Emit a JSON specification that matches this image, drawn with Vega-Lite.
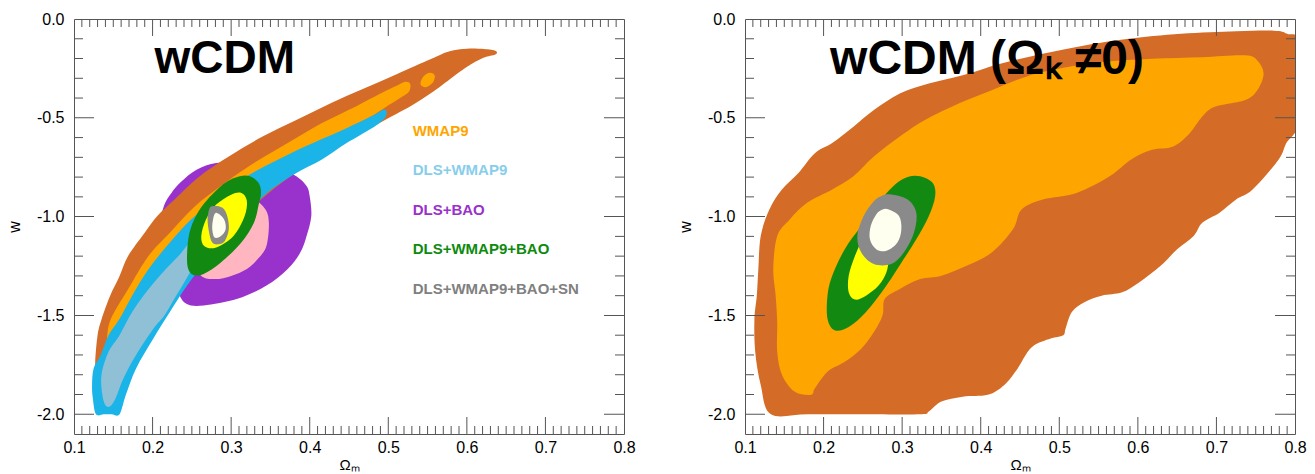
{
"$schema": "https://vega.github.io/schema/vega-lite/v6.json",
"background": "white",
"padding": {"left": 5, "top": 10, "right": 5, "bottom": 0},
"spacing": 121,
"bounds": "flush",
"config": {
  "view": {"stroke": "#555555", "strokeWidth": 1},
  "axis": {"labelFont": "Liberation Sans", "titleFont": "Liberation Sans", "labelFontSize": 16, "labelColor": "#000000", "titleColor": "#000000", "grid": false, "domain": false},
  "text": {"font": "Liberation Sans"}
},
"datasets": {
  "xt": [
    {"v":0.2,"k":"major"},{"v":0.3,"k":"major"},{"v":0.4,"k":"major"},{"v":0.5,"k":"major"},{"v":0.6,"k":"major"},{"v":0.7,"k":"major"},
    {"v":0.11,"k":"minor"},{"v":0.12,"k":"minor"},{"v":0.13,"k":"minor"},{"v":0.14,"k":"minor"},{"v":0.15,"k":"minor"},{"v":0.16,"k":"minor"},{"v":0.17,"k":"minor"},{"v":0.18,"k":"minor"},{"v":0.19,"k":"minor"},
    {"v":0.21,"k":"minor"},{"v":0.22,"k":"minor"},{"v":0.23,"k":"minor"},{"v":0.24,"k":"minor"},{"v":0.25,"k":"minor"},{"v":0.26,"k":"minor"},{"v":0.27,"k":"minor"},{"v":0.28,"k":"minor"},{"v":0.29,"k":"minor"},
    {"v":0.31,"k":"minor"},{"v":0.32,"k":"minor"},{"v":0.33,"k":"minor"},{"v":0.34,"k":"minor"},{"v":0.35,"k":"minor"},{"v":0.36,"k":"minor"},{"v":0.37,"k":"minor"},{"v":0.38,"k":"minor"},{"v":0.39,"k":"minor"},
    {"v":0.41,"k":"minor"},{"v":0.42,"k":"minor"},{"v":0.43,"k":"minor"},{"v":0.44,"k":"minor"},{"v":0.45,"k":"minor"},{"v":0.46,"k":"minor"},{"v":0.47,"k":"minor"},{"v":0.48,"k":"minor"},{"v":0.49,"k":"minor"},
    {"v":0.51,"k":"minor"},{"v":0.52,"k":"minor"},{"v":0.53,"k":"minor"},{"v":0.54,"k":"minor"},{"v":0.55,"k":"minor"},{"v":0.56,"k":"minor"},{"v":0.57,"k":"minor"},{"v":0.58,"k":"minor"},{"v":0.59,"k":"minor"},
    {"v":0.61,"k":"minor"},{"v":0.62,"k":"minor"},{"v":0.63,"k":"minor"},{"v":0.64,"k":"minor"},{"v":0.65,"k":"minor"},{"v":0.66,"k":"minor"},{"v":0.67,"k":"minor"},{"v":0.68,"k":"minor"},{"v":0.69,"k":"minor"},
    {"v":0.71,"k":"minor"},{"v":0.72,"k":"minor"},{"v":0.73,"k":"minor"},{"v":0.74,"k":"minor"},{"v":0.75,"k":"minor"},{"v":0.76,"k":"minor"},{"v":0.77,"k":"minor"},{"v":0.78,"k":"minor"},{"v":0.79,"k":"minor"}
  ],
  "yt": [
    {"v":-0.5,"k":"major"},{"v":-1.0,"k":"major"},{"v":-1.5,"k":"major"},{"v":-2.0,"k":"major"},
    {"v":-0.1,"k":"minor"},{"v":-0.2,"k":"minor"},{"v":-0.3,"k":"minor"},{"v":-0.4,"k":"minor"},{"v":-0.6,"k":"minor"},{"v":-0.7,"k":"minor"},{"v":-0.8,"k":"minor"},{"v":-0.9,"k":"minor"},
    {"v":-1.1,"k":"minor"},{"v":-1.2,"k":"minor"},{"v":-1.3,"k":"minor"},{"v":-1.4,"k":"minor"},{"v":-1.6,"k":"minor"},{"v":-1.7,"k":"minor"},{"v":-1.8,"k":"minor"},{"v":-1.9,"k":"minor"}
  ],
  "left": [
    {"p":"a","r":"DLS+BAO 2σ","x":0.281,"w":-0.729},{"p":"a","r":"DLS+BAO 2σ","x":0.310,"w":-0.735},{"p":"a","r":"DLS+BAO 2σ","x":0.340,"w":-0.746},{"p":"a","r":"DLS+BAO 2σ","x":0.365,"w":-0.765},{"p":"a","r":"DLS+BAO 2σ","x":0.383,"w":-0.796},{"p":"a","r":"DLS+BAO 2σ","x":0.396,"w":-0.845},{"p":"a","r":"DLS+BAO 2σ","x":0.400,"w":-0.897},{"p":"a","r":"DLS+BAO 2σ","x":0.402,"w":-0.997},{"p":"a","r":"DLS+BAO 2σ","x":0.396,"w":-1.098},{"p":"a","r":"DLS+BAO 2σ","x":0.388,"w":-1.182},{"p":"a","r":"DLS+BAO 2σ","x":0.372,"w":-1.265},{"p":"a","r":"DLS+BAO 2σ","x":0.345,"w":-1.349},{"p":"a","r":"DLS+BAO 2σ","x":0.308,"w":-1.416},{"p":"a","r":"DLS+BAO 2σ","x":0.265,"w":-1.450},{"p":"a","r":"DLS+BAO 2σ","x":0.243,"w":-1.441},{"p":"a","r":"DLS+BAO 2σ","x":0.232,"w":-1.380},{"p":"a","r":"DLS+BAO 2σ","x":0.220,"w":-1.270},{"p":"a","r":"DLS+BAO 2σ","x":0.212,"w":-1.150},{"p":"a","r":"DLS+BAO 2σ","x":0.210,"w":-1.030},{"p":"a","r":"DLS+BAO 2σ","x":0.215,"w":-0.940},{"p":"a","r":"DLS+BAO 2σ","x":0.224,"w":-0.880},{"p":"a","r":"DLS+BAO 2σ","x":0.236,"w":-0.825},{"p":"a","r":"DLS+BAO 2σ","x":0.256,"w":-0.763},
    {"p":"b","r":"DLS+BAO 1σ","x":0.297,"w":-0.863},{"p":"b","r":"DLS+BAO 1σ","x":0.325,"w":-0.900},{"p":"b","r":"DLS+BAO 1σ","x":0.343,"w":-0.960},{"p":"b","r":"DLS+BAO 1σ","x":0.348,"w":-1.030},{"p":"b","r":"DLS+BAO 1σ","x":0.345,"w":-1.148},{"p":"b","r":"DLS+BAO 1σ","x":0.335,"w":-1.210},{"p":"b","r":"DLS+BAO 1σ","x":0.320,"w":-1.265},{"p":"b","r":"DLS+BAO 1σ","x":0.300,"w":-1.300},{"p":"b","r":"DLS+BAO 1σ","x":0.280,"w":-1.316},{"p":"b","r":"DLS+BAO 1σ","x":0.262,"w":-1.300},{"p":"b","r":"DLS+BAO 1σ","x":0.252,"w":-1.220},{"p":"b","r":"DLS+BAO 1σ","x":0.249,"w":-1.131},{"p":"b","r":"DLS+BAO 1σ","x":0.254,"w":-1.030},{"p":"b","r":"DLS+BAO 1σ","x":0.263,"w":-0.950},{"p":"b","r":"DLS+BAO 1σ","x":0.278,"w":-0.890},
    {"p":"c","r":"WMAP9 2σ","x":0.132,"w":-1.900},{"p":"c","r":"WMAP9 2σ","x":0.128,"w":-1.800},{"p":"c","r":"WMAP9 2σ","x":0.127,"w":-1.735},{"p":"c","r":"WMAP9 2σ","x":0.130,"w":-1.600},{"p":"c","r":"WMAP9 2σ","x":0.135,"w":-1.520},{"p":"c","r":"WMAP9 2σ","x":0.146,"w":-1.400},{"p":"c","r":"WMAP9 2σ","x":0.158,"w":-1.300},{"p":"c","r":"WMAP9 2σ","x":0.169,"w":-1.198},{"p":"c","r":"WMAP9 2σ","x":0.190,"w":-1.081},{"p":"c","r":"WMAP9 2σ","x":0.206,"w":-0.997},{"p":"c","r":"WMAP9 2σ","x":0.228,"w":-0.913},{"p":"c","r":"WMAP9 2σ","x":0.260,"w":-0.796},{"p":"c","r":"WMAP9 2σ","x":0.297,"w":-0.696},{"p":"c","r":"WMAP9 2σ","x":0.340,"w":-0.595},{"p":"c","r":"WMAP9 2σ","x":0.383,"w":-0.511},{"p":"c","r":"WMAP9 2σ","x":0.426,"w":-0.427},{"p":"c","r":"WMAP9 2σ","x":0.469,"w":-0.352},{"p":"c","r":"WMAP9 2σ","x":0.512,"w":-0.277},{"p":"c","r":"WMAP9 2σ","x":0.555,"w":-0.201},{"p":"c","r":"WMAP9 2σ","x":0.578,"w":-0.163},{"p":"c","r":"WMAP9 2σ","x":0.600,"w":-0.150},{"p":"c","r":"WMAP9 2σ","x":0.622,"w":-0.152},{"p":"c","r":"WMAP9 2σ","x":0.637,"w":-0.162},{"p":"c","r":"WMAP9 2σ","x":0.636,"w":-0.180},{"p":"c","r":"WMAP9 2σ","x":0.622,"w":-0.195},{"p":"c","r":"WMAP9 2σ","x":0.607,"w":-0.225},{"p":"c","r":"WMAP9 2σ","x":0.592,"w":-0.265},{"p":"c","r":"WMAP9 2σ","x":0.565,"w":-0.345},{"p":"c","r":"WMAP9 2σ","x":0.533,"w":-0.430},{"p":"c","r":"WMAP9 2σ","x":0.501,"w":-0.500},{"p":"c","r":"WMAP9 2σ","x":0.469,"w":-0.570},{"p":"c","r":"WMAP9 2σ","x":0.437,"w":-0.638},{"p":"c","r":"WMAP9 2σ","x":0.404,"w":-0.722},{"p":"c","r":"WMAP9 2σ","x":0.372,"w":-0.806},{"p":"c","r":"WMAP9 2σ","x":0.340,"w":-0.907},{"p":"c","r":"WMAP9 2σ","x":0.308,"w":-1.024},{"p":"c","r":"WMAP9 2σ","x":0.276,"w":-1.158},{"p":"c","r":"WMAP9 2σ","x":0.249,"w":-1.292},{"p":"c","r":"WMAP9 2σ","x":0.222,"w":-1.443},{"p":"c","r":"WMAP9 2σ","x":0.195,"w":-1.610},{"p":"c","r":"WMAP9 2σ","x":0.174,"w":-1.761},{"p":"c","r":"WMAP9 2σ","x":0.160,"w":-1.880},{"p":"c","r":"WMAP9 2σ","x":0.150,"w":-1.960},{"p":"c","r":"WMAP9 2σ","x":0.140,"w":-1.960},
    {"p":"d","r":"WMAP9 1σ","x":0.145,"w":-1.830},{"p":"d","r":"WMAP9 1σ","x":0.140,"w":-1.750},{"p":"d","r":"WMAP9 1σ","x":0.142,"w":-1.620},{"p":"d","r":"WMAP9 1σ","x":0.147,"w":-1.517},{"p":"d","r":"WMAP9 1σ","x":0.169,"w":-1.366},{"p":"d","r":"WMAP9 1σ","x":0.195,"w":-1.198},{"p":"d","r":"WMAP9 1σ","x":0.222,"w":-1.081},{"p":"d","r":"WMAP9 1σ","x":0.254,"w":-0.947},{"p":"d","r":"WMAP9 1σ","x":0.292,"w":-0.830},{"p":"d","r":"WMAP9 1σ","x":0.329,"w":-0.729},{"p":"d","r":"WMAP9 1σ","x":0.372,"w":-0.628},{"p":"d","r":"WMAP9 1σ","x":0.415,"w":-0.528},{"p":"d","r":"WMAP9 1σ","x":0.458,"w":-0.444},{"p":"d","r":"WMAP9 1σ","x":0.490,"w":-0.377},{"p":"d","r":"WMAP9 1σ","x":0.512,"w":-0.335},{"p":"d","r":"WMAP9 1σ","x":0.522,"w":-0.318},{"p":"d","r":"WMAP9 1σ","x":0.528,"w":-0.330},{"p":"d","r":"WMAP9 1σ","x":0.526,"w":-0.370},{"p":"d","r":"WMAP9 1σ","x":0.515,"w":-0.400},{"p":"d","r":"WMAP9 1σ","x":0.495,"w":-0.450},{"p":"d","r":"WMAP9 1σ","x":0.475,"w":-0.500},{"p":"d","r":"WMAP9 1σ","x":0.440,"w":-0.570},{"p":"d","r":"WMAP9 1σ","x":0.400,"w":-0.650},{"p":"d","r":"WMAP9 1σ","x":0.360,"w":-0.730},{"p":"d","r":"WMAP9 1σ","x":0.330,"w":-0.820},{"p":"d","r":"WMAP9 1σ","x":0.300,"w":-0.930},{"p":"d","r":"WMAP9 1σ","x":0.275,"w":-1.050},{"p":"d","r":"WMAP9 1σ","x":0.250,"w":-1.180},{"p":"d","r":"WMAP9 1σ","x":0.225,"w":-1.330},{"p":"d","r":"WMAP9 1σ","x":0.200,"w":-1.500},{"p":"d","r":"WMAP9 1σ","x":0.180,"w":-1.650},{"p":"d","r":"WMAP9 1σ","x":0.165,"w":-1.780},
    {"p":"e","r":"WMAP9 1σ","x":0.541,"w":-0.330},{"p":"e","r":"WMAP9 1σ","x":0.545,"w":-0.290},{"p":"e","r":"WMAP9 1σ","x":0.553,"w":-0.272},{"p":"e","r":"WMAP9 1σ","x":0.559,"w":-0.285},{"p":"e","r":"WMAP9 1σ","x":0.557,"w":-0.320},{"p":"e","r":"WMAP9 1σ","x":0.548,"w":-0.345},
    {"p":"f","r":"DLS+WMAP9 2σ","x":0.128,"w":-2.000},{"p":"f","r":"DLS+WMAP9 2σ","x":0.124,"w":-1.920},{"p":"f","r":"DLS+WMAP9 2σ","x":0.123,"w":-1.852},{"p":"f","r":"DLS+WMAP9 2σ","x":0.125,"w":-1.768},{"p":"f","r":"DLS+WMAP9 2σ","x":0.134,"w":-1.700},{"p":"f","r":"DLS+WMAP9 2σ","x":0.144,"w":-1.600},{"p":"f","r":"DLS+WMAP9 2σ","x":0.158,"w":-1.517},{"p":"f","r":"DLS+WMAP9 2σ","x":0.174,"w":-1.400},{"p":"f","r":"DLS+WMAP9 2σ","x":0.195,"w":-1.265},{"p":"f","r":"DLS+WMAP9 2σ","x":0.222,"w":-1.131},{"p":"f","r":"DLS+WMAP9 2σ","x":0.249,"w":-1.014},{"p":"f","r":"DLS+WMAP9 2σ","x":0.281,"w":-0.913},{"p":"f","r":"DLS+WMAP9 2σ","x":0.313,"w":-0.813},{"p":"f","r":"DLS+WMAP9 2σ","x":0.351,"w":-0.729},{"p":"f","r":"DLS+WMAP9 2σ","x":0.394,"w":-0.645},{"p":"f","r":"DLS+WMAP9 2σ","x":0.437,"w":-0.570},{"p":"f","r":"DLS+WMAP9 2σ","x":0.469,"w":-0.511},{"p":"f","r":"DLS+WMAP9 2σ","x":0.487,"w":-0.475},{"p":"f","r":"DLS+WMAP9 2σ","x":0.494,"w":-0.458},{"p":"f","r":"DLS+WMAP9 2σ","x":0.498,"w":-0.470},{"p":"f","r":"DLS+WMAP9 2σ","x":0.495,"w":-0.503},{"p":"f","r":"DLS+WMAP9 2σ","x":0.479,"w":-0.553},{"p":"f","r":"DLS+WMAP9 2σ","x":0.447,"w":-0.628},{"p":"f","r":"DLS+WMAP9 2σ","x":0.415,"w":-0.712},{"p":"f","r":"DLS+WMAP9 2σ","x":0.383,"w":-0.779},{"p":"f","r":"DLS+WMAP9 2σ","x":0.351,"w":-0.863},{"p":"f","r":"DLS+WMAP9 2σ","x":0.324,"w":-0.964},{"p":"f","r":"DLS+WMAP9 2σ","x":0.297,"w":-1.081},{"p":"f","r":"DLS+WMAP9 2σ","x":0.270,"w":-1.215},{"p":"f","r":"DLS+WMAP9 2σ","x":0.244,"w":-1.349},{"p":"f","r":"DLS+WMAP9 2σ","x":0.222,"w":-1.483},{"p":"f","r":"DLS+WMAP9 2σ","x":0.201,"w":-1.617},{"p":"f","r":"DLS+WMAP9 2σ","x":0.179,"w":-1.768},{"p":"f","r":"DLS+WMAP9 2σ","x":0.166,"w":-1.902},{"p":"f","r":"DLS+WMAP9 2σ","x":0.158,"w":-2.000},{"p":"f","r":"DLS+WMAP9 2σ","x":0.148,"w":-2.000},{"p":"f","r":"DLS+WMAP9 2σ","x":0.138,"w":-2.000},
    {"p":"g","r":"DLS+WMAP9 1σ","x":0.146,"w":-1.960},{"p":"g","r":"DLS+WMAP9 1σ","x":0.140,"w":-1.955},{"p":"g","r":"DLS+WMAP9 1σ","x":0.136,"w":-1.900},{"p":"g","r":"DLS+WMAP9 1σ","x":0.135,"w":-1.800},{"p":"g","r":"DLS+WMAP9 1σ","x":0.144,"w":-1.684},{"p":"g","r":"DLS+WMAP9 1σ","x":0.158,"w":-1.600},{"p":"g","r":"DLS+WMAP9 1σ","x":0.174,"w":-1.483},{"p":"g","r":"DLS+WMAP9 1σ","x":0.195,"w":-1.366},{"p":"g","r":"DLS+WMAP9 1σ","x":0.217,"w":-1.265},{"p":"g","r":"DLS+WMAP9 1σ","x":0.235,"w":-1.190},{"p":"g","r":"DLS+WMAP9 1σ","x":0.250,"w":-1.120},{"p":"g","r":"DLS+WMAP9 1σ","x":0.262,"w":-1.100},{"p":"g","r":"DLS+WMAP9 1σ","x":0.258,"w":-1.200},{"p":"g","r":"DLS+WMAP9 1σ","x":0.245,"w":-1.300},{"p":"g","r":"DLS+WMAP9 1σ","x":0.230,"w":-1.400},{"p":"g","r":"DLS+WMAP9 1σ","x":0.215,"w":-1.500},{"p":"g","r":"DLS+WMAP9 1σ","x":0.201,"w":-1.567},{"p":"g","r":"DLS+WMAP9 1σ","x":0.179,"w":-1.700},{"p":"g","r":"DLS+WMAP9 1σ","x":0.163,"w":-1.818},{"p":"g","r":"DLS+WMAP9 1σ","x":0.153,"w":-1.919},
    {"p":"h","r":"DLS+WMAP9+BAO 2σ","x":0.324,"w":-0.796},{"p":"h","r":"DLS+WMAP9+BAO 2σ","x":0.335,"w":-0.830},{"p":"h","r":"DLS+WMAP9+BAO 2σ","x":0.338,"w":-0.880},{"p":"h","r":"DLS+WMAP9+BAO 2σ","x":0.335,"w":-0.940},{"p":"h","r":"DLS+WMAP9+BAO 2σ","x":0.329,"w":-1.031},{"p":"h","r":"DLS+WMAP9+BAO 2σ","x":0.313,"w":-1.131},{"p":"h","r":"DLS+WMAP9+BAO 2σ","x":0.287,"w":-1.232},{"p":"h","r":"DLS+WMAP9+BAO 2σ","x":0.265,"w":-1.290},{"p":"h","r":"DLS+WMAP9+BAO 2σ","x":0.252,"w":-1.295},{"p":"h","r":"DLS+WMAP9+BAO 2σ","x":0.245,"w":-1.260},{"p":"h","r":"DLS+WMAP9+BAO 2σ","x":0.244,"w":-1.180},{"p":"h","r":"DLS+WMAP9+BAO 2σ","x":0.247,"w":-1.080},{"p":"h","r":"DLS+WMAP9+BAO 2σ","x":0.256,"w":-0.990},{"p":"h","r":"DLS+WMAP9+BAO 2σ","x":0.270,"w":-0.913},{"p":"h","r":"DLS+WMAP9+BAO 2σ","x":0.292,"w":-0.830},{"p":"h","r":"DLS+WMAP9+BAO 2σ","x":0.311,"w":-0.796},
    {"p":"i","r":"DLS+WMAP9+BAO 1σ","x":0.313,"w":-0.880},{"p":"i","r":"DLS+WMAP9+BAO 1σ","x":0.320,"w":-0.920},{"p":"i","r":"DLS+WMAP9+BAO 1σ","x":0.317,"w":-1.000},{"p":"i","r":"DLS+WMAP9+BAO 1σ","x":0.303,"w":-1.098},{"p":"i","r":"DLS+WMAP9+BAO 1σ","x":0.281,"w":-1.156},{"p":"i","r":"DLS+WMAP9+BAO 1σ","x":0.266,"w":-1.150},{"p":"i","r":"DLS+WMAP9+BAO 1σ","x":0.262,"w":-1.098},{"p":"i","r":"DLS+WMAP9+BAO 1σ","x":0.268,"w":-1.014},{"p":"i","r":"DLS+WMAP9+BAO 1σ","x":0.281,"w":-0.939},{"p":"i","r":"DLS+WMAP9+BAO 1σ","x":0.300,"w":-0.889},
    {"p":"j","r":"DLS+WMAP9+BAO+SN 2σ","x":0.276,"w":-0.947},{"p":"j","r":"DLS+WMAP9+BAO+SN 2σ","x":0.289,"w":-0.955},{"p":"j","r":"DLS+WMAP9+BAO+SN 2σ","x":0.295,"w":-0.997},{"p":"j","r":"DLS+WMAP9+BAO+SN 2σ","x":0.297,"w":-1.064},{"p":"j","r":"DLS+WMAP9+BAO+SN 2σ","x":0.292,"w":-1.123},{"p":"j","r":"DLS+WMAP9+BAO+SN 2σ","x":0.284,"w":-1.140},{"p":"j","r":"DLS+WMAP9+BAO+SN 2σ","x":0.276,"w":-1.131},{"p":"j","r":"DLS+WMAP9+BAO+SN 2σ","x":0.272,"w":-1.081},{"p":"j","r":"DLS+WMAP9+BAO+SN 2σ","x":0.270,"w":-1.014},{"p":"j","r":"DLS+WMAP9+BAO+SN 2σ","x":0.272,"w":-0.964},
    {"p":"k","r":"DLS+WMAP9+BAO+SN 1σ","x":0.281,"w":-0.981},{"p":"k","r":"DLS+WMAP9+BAO+SN 1σ","x":0.291,"w":-1.014},{"p":"k","r":"DLS+WMAP9+BAO+SN 1σ","x":0.293,"w":-1.064},{"p":"k","r":"DLS+WMAP9+BAO+SN 1σ","x":0.287,"w":-1.098},{"p":"k","r":"DLS+WMAP9+BAO+SN 1σ","x":0.279,"w":-1.106},{"p":"k","r":"DLS+WMAP9+BAO+SN 1σ","x":0.276,"w":-1.064},{"p":"k","r":"DLS+WMAP9+BAO+SN 1σ","x":0.277,"w":-1.014}
  ],
  "right": [
    {"p":"a","r":"WMAP9 2σ","x":0.180,"w":-2.000},{"p":"a","r":"WMAP9 2σ","x":0.133,"w":-2.000},{"p":"a","r":"WMAP9 2σ","x":0.120,"w":-1.852},{"p":"a","r":"WMAP9 2σ","x":0.113,"w":-1.684},{"p":"a","r":"WMAP9 2σ","x":0.112,"w":-1.517},{"p":"a","r":"WMAP9 2σ","x":0.115,"w":-1.400},{"p":"a","r":"WMAP9 2σ","x":0.117,"w":-1.265},{"p":"a","r":"WMAP9 2σ","x":0.120,"w":-1.098},{"p":"a","r":"WMAP9 2σ","x":0.131,"w":-0.964},{"p":"a","r":"WMAP9 2σ","x":0.147,"w":-0.863},{"p":"a","r":"WMAP9 2σ","x":0.168,"w":-0.779},{"p":"a","r":"WMAP9 2σ","x":0.189,"w":-0.679},{"p":"a","r":"WMAP9 2σ","x":0.211,"w":-0.628},{"p":"a","r":"WMAP9 2σ","x":0.238,"w":-0.545},{"p":"a","r":"WMAP9 2σ","x":0.264,"w":-0.461},{"p":"a","r":"WMAP9 2σ","x":0.297,"w":-0.377},{"p":"a","r":"WMAP9 2σ","x":0.334,"w":-0.327},{"p":"a","r":"WMAP9 2σ","x":0.377,"w":-0.285},{"p":"a","r":"WMAP9 2σ","x":0.425,"w":-0.226},{"p":"a","r":"WMAP9 2σ","x":0.479,"w":-0.176},{"p":"a","r":"WMAP9 2σ","x":0.532,"w":-0.134},{"p":"a","r":"WMAP9 2σ","x":0.586,"w":-0.101},{"p":"a","r":"WMAP9 2σ","x":0.655,"w":-0.075},{"p":"a","r":"WMAP9 2σ","x":0.725,"w":-0.062},{"p":"a","r":"WMAP9 2σ","x":0.773,"w":-0.059},{"p":"a","r":"WMAP9 2σ","x":0.790,"w":-0.075},{"p":"a","r":"WMAP9 2σ","x":0.805,"w":-0.126},{"p":"a","r":"WMAP9 2σ","x":0.805,"w":-0.511},{"p":"a","r":"WMAP9 2σ","x":0.789,"w":-0.628},{"p":"a","r":"WMAP9 2σ","x":0.779,"w":-0.712},{"p":"a","r":"WMAP9 2σ","x":0.746,"w":-0.863},{"p":"a","r":"WMAP9 2σ","x":0.725,"w":-0.913},{"p":"a","r":"WMAP9 2σ","x":0.704,"w":-0.980},{"p":"a","r":"WMAP9 2σ","x":0.682,"w":-1.031},{"p":"a","r":"WMAP9 2σ","x":0.671,"w":-1.098},{"p":"a","r":"WMAP9 2σ","x":0.650,"w":-1.165},{"p":"a","r":"WMAP9 2σ","x":0.629,"w":-1.249},{"p":"a","r":"WMAP9 2σ","x":0.602,"w":-1.332},{"p":"a","r":"WMAP9 2σ","x":0.580,"w":-1.383},{"p":"a","r":"WMAP9 2σ","x":0.554,"w":-1.400},{"p":"a","r":"WMAP9 2σ","x":0.532,"w":-1.433},{"p":"a","r":"WMAP9 2σ","x":0.516,"w":-1.483},{"p":"a","r":"WMAP9 2σ","x":0.508,"w":-1.567},{"p":"a","r":"WMAP9 2σ","x":0.505,"w":-1.600},{"p":"a","r":"WMAP9 2σ","x":0.489,"w":-1.617},{"p":"a","r":"WMAP9 2σ","x":0.468,"w":-1.651},{"p":"a","r":"WMAP9 2σ","x":0.457,"w":-1.701},{"p":"a","r":"WMAP9 2σ","x":0.447,"w":-1.768},{"p":"a","r":"WMAP9 2σ","x":0.430,"w":-1.852},{"p":"a","r":"WMAP9 2σ","x":0.409,"w":-1.902},{"p":"a","r":"WMAP9 2σ","x":0.377,"w":-1.911},{"p":"a","r":"WMAP9 2σ","x":0.350,"w":-1.936},{"p":"a","r":"WMAP9 2σ","x":0.334,"w":-1.986},{"p":"a","r":"WMAP9 2σ","x":0.323,"w":-2.000},{"p":"a","r":"WMAP9 2σ","x":0.250,"w":-2.000},
    {"p":"b","r":"WMAP9 1σ","x":0.184,"w":-1.902},{"p":"b","r":"WMAP9 1σ","x":0.163,"w":-1.885},{"p":"b","r":"WMAP9 1σ","x":0.147,"w":-1.800},{"p":"b","r":"WMAP9 1σ","x":0.141,"w":-1.684},{"p":"b","r":"WMAP9 1σ","x":0.141,"w":-1.534},{"p":"b","r":"WMAP9 1σ","x":0.139,"w":-1.400},{"p":"b","r":"WMAP9 1σ","x":0.136,"w":-1.265},{"p":"b","r":"WMAP9 1σ","x":0.141,"w":-1.098},{"p":"b","r":"WMAP9 1σ","x":0.157,"w":-1.014},{"p":"b","r":"WMAP9 1σ","x":0.179,"w":-0.930},{"p":"b","r":"WMAP9 1σ","x":0.211,"w":-0.863},{"p":"b","r":"WMAP9 1σ","x":0.238,"w":-0.796},{"p":"b","r":"WMAP9 1σ","x":0.264,"w":-0.696},{"p":"b","r":"WMAP9 1σ","x":0.297,"w":-0.595},{"p":"b","r":"WMAP9 1σ","x":0.329,"w":-0.511},{"p":"b","r":"WMAP9 1σ","x":0.372,"w":-0.427},{"p":"b","r":"WMAP9 1σ","x":0.414,"w":-0.360},{"p":"b","r":"WMAP9 1σ","x":0.457,"w":-0.293},{"p":"b","r":"WMAP9 1σ","x":0.500,"w":-0.251},{"p":"b","r":"WMAP9 1σ","x":0.554,"w":-0.218},{"p":"b","r":"WMAP9 1σ","x":0.618,"w":-0.201},{"p":"b","r":"WMAP9 1σ","x":0.682,"w":-0.193},{"p":"b","r":"WMAP9 1σ","x":0.736,"w":-0.184},{"p":"b","r":"WMAP9 1σ","x":0.752,"w":-0.210},{"p":"b","r":"WMAP9 1σ","x":0.760,"w":-0.277},{"p":"b","r":"WMAP9 1σ","x":0.752,"w":-0.360},{"p":"b","r":"WMAP9 1σ","x":0.736,"w":-0.411},{"p":"b","r":"WMAP9 1σ","x":0.698,"w":-0.444},{"p":"b","r":"WMAP9 1σ","x":0.682,"w":-0.494},{"p":"b","r":"WMAP9 1σ","x":0.666,"w":-0.578},{"p":"b","r":"WMAP9 1σ","x":0.645,"w":-0.645},{"p":"b","r":"WMAP9 1σ","x":0.618,"w":-0.662},{"p":"b","r":"WMAP9 1σ","x":0.591,"w":-0.712},{"p":"b","r":"WMAP9 1σ","x":0.564,"w":-0.796},{"p":"b","r":"WMAP9 1σ","x":0.522,"w":-0.880},{"p":"b","r":"WMAP9 1σ","x":0.479,"w":-0.913},{"p":"b","r":"WMAP9 1σ","x":0.452,"w":-0.964},{"p":"b","r":"WMAP9 1σ","x":0.441,"w":-1.064},{"p":"b","r":"WMAP9 1σ","x":0.414,"w":-1.182},{"p":"b","r":"WMAP9 1σ","x":0.382,"w":-1.249},{"p":"b","r":"WMAP9 1σ","x":0.350,"w":-1.299},{"p":"b","r":"WMAP9 1σ","x":0.323,"w":-1.316},{"p":"b","r":"WMAP9 1σ","x":0.297,"w":-1.366},{"p":"b","r":"WMAP9 1σ","x":0.278,"w":-1.416},{"p":"b","r":"WMAP9 1σ","x":0.275,"w":-1.500},{"p":"b","r":"WMAP9 1σ","x":0.264,"w":-1.584},{"p":"b","r":"WMAP9 1σ","x":0.248,"w":-1.668},{"p":"b","r":"WMAP9 1σ","x":0.227,"w":-1.735},{"p":"b","r":"WMAP9 1σ","x":0.205,"w":-1.785},{"p":"b","r":"WMAP9 1σ","x":0.189,"w":-1.869},
    {"p":"c","r":"DLS+WMAP9+BAO 2σ","x":0.323,"w":-0.796},{"p":"c","r":"DLS+WMAP9+BAO 2σ","x":0.339,"w":-0.830},{"p":"c","r":"DLS+WMAP9+BAO 2σ","x":0.342,"w":-0.897},{"p":"c","r":"DLS+WMAP9+BAO 2σ","x":0.334,"w":-0.997},{"p":"c","r":"DLS+WMAP9+BAO 2σ","x":0.318,"w":-1.115},{"p":"c","r":"DLS+WMAP9+BAO 2σ","x":0.302,"w":-1.215},{"p":"c","r":"DLS+WMAP9+BAO 2σ","x":0.280,"w":-1.349},{"p":"c","r":"DLS+WMAP9+BAO 2σ","x":0.254,"w":-1.483},{"p":"c","r":"DLS+WMAP9+BAO 2σ","x":0.232,"w":-1.559},{"p":"c","r":"DLS+WMAP9+BAO 2σ","x":0.214,"w":-1.575},{"p":"c","r":"DLS+WMAP9+BAO 2σ","x":0.205,"w":-1.517},{"p":"c","r":"DLS+WMAP9+BAO 2σ","x":0.205,"w":-1.400},{"p":"c","r":"DLS+WMAP9+BAO 2σ","x":0.211,"w":-1.299},{"p":"c","r":"DLS+WMAP9+BAO 2σ","x":0.227,"w":-1.165},{"p":"c","r":"DLS+WMAP9+BAO 2σ","x":0.248,"w":-1.048},{"p":"c","r":"DLS+WMAP9+BAO 2σ","x":0.270,"w":-0.930},{"p":"c","r":"DLS+WMAP9+BAO 2σ","x":0.291,"w":-0.838},{"p":"c","r":"DLS+WMAP9+BAO 2σ","x":0.307,"w":-0.800},
    {"p":"d","r":"DLS+WMAP9+BAO 1σ","x":0.264,"w":-0.997},{"p":"d","r":"DLS+WMAP9+BAO 1σ","x":0.285,"w":-1.031},{"p":"d","r":"DLS+WMAP9+BAO 1σ","x":0.283,"w":-1.199},{"p":"d","r":"DLS+WMAP9+BAO 1σ","x":0.280,"w":-1.282},{"p":"d","r":"DLS+WMAP9+BAO 1σ","x":0.270,"w":-1.349},{"p":"d","r":"DLS+WMAP9+BAO 1σ","x":0.254,"w":-1.400},{"p":"d","r":"DLS+WMAP9+BAO 1σ","x":0.240,"w":-1.420},{"p":"d","r":"DLS+WMAP9+BAO 1σ","x":0.232,"w":-1.383},{"p":"d","r":"DLS+WMAP9+BAO 1σ","x":0.232,"w":-1.299},{"p":"d","r":"DLS+WMAP9+BAO 1σ","x":0.240,"w":-1.198},{"p":"d","r":"DLS+WMAP9+BAO 1σ","x":0.251,"w":-1.098},
    {"p":"e","r":"DLS+WMAP9+BAO+SN 2σ","x":0.286,"w":-0.888},{"p":"e","r":"DLS+WMAP9+BAO+SN 2σ","x":0.307,"w":-0.913},{"p":"e","r":"DLS+WMAP9+BAO+SN 2σ","x":0.318,"w":-0.980},{"p":"e","r":"DLS+WMAP9+BAO+SN 2σ","x":0.315,"w":-1.081},{"p":"e","r":"DLS+WMAP9+BAO+SN 2σ","x":0.302,"w":-1.182},{"p":"e","r":"DLS+WMAP9+BAO+SN 2σ","x":0.286,"w":-1.240},{"p":"e","r":"DLS+WMAP9+BAO+SN 2σ","x":0.264,"w":-1.240},{"p":"e","r":"DLS+WMAP9+BAO+SN 2σ","x":0.248,"w":-1.182},{"p":"e","r":"DLS+WMAP9+BAO+SN 2σ","x":0.243,"w":-1.098},{"p":"e","r":"DLS+WMAP9+BAO+SN 2σ","x":0.251,"w":-0.997},{"p":"e","r":"DLS+WMAP9+BAO+SN 2σ","x":0.264,"w":-0.922},{"p":"e","r":"DLS+WMAP9+BAO+SN 2σ","x":0.275,"w":-0.893},
    {"p":"f","r":"DLS+WMAP9+BAO+SN 1σ","x":0.283,"w":-0.964},{"p":"f","r":"DLS+WMAP9+BAO+SN 1σ","x":0.296,"w":-0.997},{"p":"f","r":"DLS+WMAP9+BAO+SN 1σ","x":0.299,"w":-1.064},{"p":"f","r":"DLS+WMAP9+BAO+SN 1σ","x":0.294,"w":-1.131},{"p":"f","r":"DLS+WMAP9+BAO+SN 1σ","x":0.280,"w":-1.173},{"p":"f","r":"DLS+WMAP9+BAO+SN 1σ","x":0.267,"w":-1.165},{"p":"f","r":"DLS+WMAP9+BAO+SN 1σ","x":0.259,"w":-1.115},{"p":"f","r":"DLS+WMAP9+BAO+SN 1σ","x":0.260,"w":-1.048},{"p":"f","r":"DLS+WMAP9+BAO+SN 1σ","x":0.267,"w":-0.989},{"p":"f","r":"DLS+WMAP9+BAO+SN 1σ","x":0.275,"w":-0.964}
  ],
  "legend": [
    {"label":"WMAP9","x":0.531,"w":-0.565},
    {"label":"DLS+WMAP9","x":0.531,"w":-0.765},
    {"label":"DLS+BAO","x":0.531,"w":-0.965},
    {"label":"DLS+WMAP9+BAO","x":0.531,"w":-1.165},
    {"label":"DLS+WMAP9+BAO+SN","x":0.531,"w":-1.365}
  ]
},
"hconcat": [
  {
    "width": 550, "height": 415,
    "data": {"name": "left"},
    "resolve": {"axis": {"x": "independent", "y": "independent"}, "scale": {"size": "independent"}},
    "layer": [
      {
        "mark": {"type": "line", "interpolate": "cardinal-closed", "strokeWidth": 0, "clip": true},
        "encoding": {
          "x": {"field": "x", "type": "quantitative", "scale": {"domain": [0.1, 0.8], "nice": false, "zero": false},
                "axis": {"orient": "bottom", "values": [0.1,0.2,0.3,0.4,0.5,0.6,0.7,0.8], "format": ".1f", "ticks": false, "labelPadding": 5, "labelFlush": false, "labelOverlap": false, "title": "Ωₘ", "titleFontSize": 15, "titleFontWeight": "normal", "titlePadding": 2}},
          "y": {"field": "w", "type": "quantitative", "scale": {"domain": [-2.1, 0], "nice": false, "zero": false},
                "axis": {"orient": "left", "values": [0,-0.5,-1,-1.5,-2], "labelExpr": "replace(format(datum.value, '.1f'), '−', '-')", "ticks": false, "labelPadding": 10, "labelFlush": false, "labelOverlap": false, "title": "w", "titleFontSize": 16, "titleFontWeight": "normal", "titlePadding": 14}},
          "fill": {"field": "r", "type": "nominal", "legend": null,
                   "scale": {"domain": ["WMAP9 2σ","WMAP9 1σ","DLS+WMAP9 2σ","DLS+WMAP9 1σ","DLS+BAO 2σ","DLS+BAO 1σ","DLS+WMAP9+BAO 2σ","DLS+WMAP9+BAO 1σ","DLS+WMAP9+BAO+SN 2σ","DLS+WMAP9+BAO+SN 1σ"],
                             "range": ["#d46c28","#ffa500","#1ab4e8","#8fc0d6","#9932cc","#ffb6c1","#128a12","#ffff00","#8a8a8a","#fffff0"]}},
          "detail": {"field": "p"},
          "order": {"value": null}
        }
      },
      {
        "data": {"name": "xt"},
        "mark": {"type": "tick", "orient": "vertical", "thickness": 1, "color": "#555555", "opacity": 1, "clip": true},
        "encoding": {
          "x": {"field": "v", "type": "quantitative", "axis": null},
          "y": {"datum": -2.1, "type": "quantitative", "axis": null},
          "size": {"field": "k", "type": "ordinal", "legend": null, "scale": {"domain": ["major","minor"], "range": [34, 16]}}
        }
      },
      {
        "data": {"name": "xt"},
        "mark": {"type": "tick", "orient": "vertical", "thickness": 1, "color": "#555555", "opacity": 1, "clip": true},
        "encoding": {
          "x": {"field": "v", "type": "quantitative", "axis": null},
          "y": {"datum": 0, "type": "quantitative", "axis": null},
          "size": {"field": "k", "type": "ordinal", "legend": null, "scale": {"domain": ["major","minor"], "range": [34, 16]}}
        }
      },
      {
        "data": {"name": "yt"},
        "mark": {"type": "tick", "orient": "horizontal", "thickness": 1, "color": "#555555", "opacity": 1, "clip": true},
        "encoding": {
          "y": {"field": "v", "type": "quantitative", "axis": null},
          "x": {"datum": 0.1, "type": "quantitative", "axis": null},
          "size": {"field": "k", "type": "ordinal", "legend": null, "scale": {"domain": ["major","minor"], "range": [40, 18]}}
        }
      },
      {
        "data": {"name": "yt"},
        "mark": {"type": "tick", "orient": "horizontal", "thickness": 1, "color": "#555555", "opacity": 1, "clip": true},
        "encoding": {
          "y": {"field": "v", "type": "quantitative", "axis": null},
          "x": {"datum": 0.8, "type": "quantitative", "axis": null},
          "size": {"field": "k", "type": "ordinal", "legend": null, "scale": {"domain": ["major","minor"], "range": [40, 18]}}
        }
      },
      {
        "data": {"name": "legend"},
        "mark": {"type": "text", "align": "left", "baseline": "middle", "fontWeight": "bold", "fontSize": 15},
        "encoding": {
          "x": {"field": "x", "type": "quantitative", "axis": null},
          "y": {"field": "w", "type": "quantitative", "axis": null},
          "text": {"field": "label"},
          "color": {"field": "label", "type": "nominal", "legend": null,
                    "scale": {"domain": ["WMAP9","DLS+WMAP9","DLS+BAO","DLS+WMAP9+BAO","DLS+WMAP9+BAO+SN"], "range": ["#ffa500","#87ceeb","#9932cc","#0e8a0e","#808080"]}}
        }
      },
      {
        "data": {"values": [{"t": "wCDM", "x": 0.292, "w": -0.202}]},
        "mark": {"type": "text", "align": "center", "baseline": "middle", "fontWeight": "bold", "fontSize": 46, "color": "#000000"},
        "encoding": {
          "x": {"field": "x", "type": "quantitative", "axis": null},
          "y": {"field": "w", "type": "quantitative", "axis": null},
          "text": {"field": "t"}
        }
      }
    ]
  },
  {
    "width": 550, "height": 415,
    "data": {"name": "right"},
    "resolve": {"axis": {"x": "independent", "y": "independent"}, "scale": {"size": "independent"}},
    "layer": [
      {
        "mark": {"type": "line", "interpolate": "cardinal-closed", "strokeWidth": 0, "clip": true},
        "encoding": {
          "x": {"field": "x", "type": "quantitative", "scale": {"domain": [0.1, 0.8], "nice": false, "zero": false},
                "axis": {"orient": "bottom", "values": [0.1,0.2,0.3,0.4,0.5,0.6,0.7,0.8], "format": ".1f", "ticks": false, "labelPadding": 5, "labelFlush": false, "labelOverlap": false, "title": "Ωₘ", "titleFontSize": 15, "titleFontWeight": "normal", "titlePadding": 2}},
          "y": {"field": "w", "type": "quantitative", "scale": {"domain": [-2.1, 0], "nice": false, "zero": false},
                "axis": {"orient": "left", "values": [0,-0.5,-1,-1.5,-2], "labelExpr": "replace(format(datum.value, '.1f'), '−', '-')", "ticks": false, "labelPadding": 10, "labelFlush": false, "labelOverlap": false, "title": "w", "titleFontSize": 16, "titleFontWeight": "normal", "titlePadding": 14}},
          "fill": {"field": "r", "type": "nominal", "legend": null,
                   "scale": {"domain": ["WMAP9 2σ","WMAP9 1σ","DLS+WMAP9 2σ","DLS+WMAP9 1σ","DLS+BAO 2σ","DLS+BAO 1σ","DLS+WMAP9+BAO 2σ","DLS+WMAP9+BAO 1σ","DLS+WMAP9+BAO+SN 2σ","DLS+WMAP9+BAO+SN 1σ"],
                             "range": ["#d46c28","#ffa500","#1ab4e8","#8fc0d6","#9932cc","#ffb6c1","#128a12","#ffff00","#8a8a8a","#fffff0"]}},
          "detail": {"field": "p"},
          "order": {"value": null}
        }
      },
      {
        "data": {"name": "xt"},
        "mark": {"type": "tick", "orient": "vertical", "thickness": 1, "color": "#555555", "opacity": 1, "clip": true},
        "encoding": {
          "x": {"field": "v", "type": "quantitative", "axis": null},
          "y": {"datum": -2.1, "type": "quantitative", "axis": null},
          "size": {"field": "k", "type": "ordinal", "legend": null, "scale": {"domain": ["major","minor"], "range": [34, 16]}}
        }
      },
      {
        "data": {"name": "xt"},
        "mark": {"type": "tick", "orient": "vertical", "thickness": 1, "color": "#555555", "opacity": 1, "clip": true},
        "encoding": {
          "x": {"field": "v", "type": "quantitative", "axis": null},
          "y": {"datum": 0, "type": "quantitative", "axis": null},
          "size": {"field": "k", "type": "ordinal", "legend": null, "scale": {"domain": ["major","minor"], "range": [34, 16]}}
        }
      },
      {
        "data": {"name": "yt"},
        "mark": {"type": "tick", "orient": "horizontal", "thickness": 1, "color": "#555555", "opacity": 1, "clip": true},
        "encoding": {
          "y": {"field": "v", "type": "quantitative", "axis": null},
          "x": {"datum": 0.1, "type": "quantitative", "axis": null},
          "size": {"field": "k", "type": "ordinal", "legend": null, "scale": {"domain": ["major","minor"], "range": [40, 18]}}
        }
      },
      {
        "data": {"name": "yt"},
        "mark": {"type": "tick", "orient": "horizontal", "thickness": 1, "color": "#555555", "opacity": 1, "clip": true},
        "encoding": {
          "y": {"field": "v", "type": "quantitative", "axis": null},
          "x": {"datum": 0.8, "type": "quantitative", "axis": null},
          "size": {"field": "k", "type": "ordinal", "legend": null, "scale": {"domain": ["major","minor"], "range": [40, 18]}}
        }
      },
      {
        "data": {"values": [{"t": "wCDM (Ωₖ ≠0)", "x": 0.408, "w": -0.205}]},
        "mark": {"type": "text", "align": "center", "baseline": "middle", "fontWeight": "bold", "fontSize": 48, "color": "#000000"},
        "encoding": {
          "x": {"field": "x", "type": "quantitative", "axis": null},
          "y": {"field": "w", "type": "quantitative", "axis": null},
          "text": {"field": "t"}
        }
      }
    ]
  }
]
}
